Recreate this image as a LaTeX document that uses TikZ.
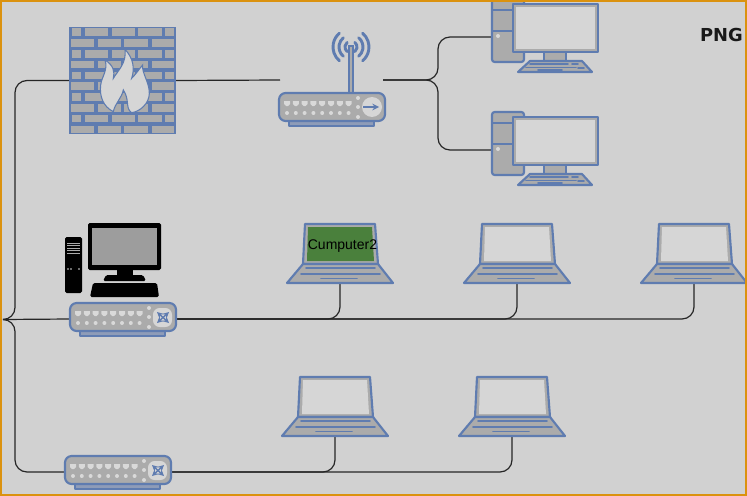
\documentclass[tikz,border=0pt]{standalone}
\usepackage{fontspec}
\setmainfont{Liberation Sans}
\newfontfamily\pngfont{DejaVu Sans}
\definecolor{bgc}{HTML}{D1D1D1}
\definecolor{edgec}{HTML}{DB920F}
\definecolor{blu}{HTML}{5F7CB0}
\definecolor{gry}{HTML}{ABABAB}
\definecolor{lgt}{HTML}{D6D6D6}
\definecolor{prt}{HTML}{D9D9D9}
\definecolor{grn}{HTML}{4A803C}
\definecolor{basec}{HTML}{8E9CB8}
\tikzset{
  wire/.style={draw=black!85,line width=0.9pt,rounded corners=9pt},
  device/.style={inner sep=0pt,outer sep=0pt,draw=none},
  part/.style={draw=blu,line width=1.6pt,fill=gry,line join=round},
  thin part/.style={draw=blu,line width=1.2pt,line cap=round},
  blk/.style={fill=black,rounded corners=1.2pt},
}
\newcommand{\switchbody}[2]{%
  \begin{scope}[shift={(#1,#2)}]
    \filldraw[part,fill=basec] (10,28) rectangle (95,33);
    \filldraw[part,rounded corners=5pt] (0,0) rectangle (106,28);
    \foreach \i in {0,...,7} {
      \fill[prt] ({5+8.8*\i},8) -- ++(6,0) -- ++(0,3) -- ++(-2,2) -- ++(-2,0) -- ++(-2,-2) -- cycle;
      \fill[prt] ({8+8.8*\i},20) circle (2);
    }
    \foreach \j in {5,14,24} \fill[prt] (79,\j) circle (2);
  \end{scope}}
\newcommand{\laptopicon}[3]{%
  \begin{scope}[shift={(#1,#2)}]
    \filldraw[part] (16,40) -- (18,0) -- (88,0) -- (91,40) -- cycle;
    \fill[#3] (21,3) -- (85,3) -- (87,37) -- (20,37) -- cycle;
    \filldraw[part] (16,40) -- (91,40) -- (106,59) -- (0,59) -- cycle;
    \draw[thin part] (19,44) -- (88,44);
    \draw[thin part] (14,50) -- (93,50);
    \draw[thin part] (34,54.5) -- (70,54.5);
  \end{scope}}
\newcommand{\desktopicon}[2]{%
  \begin{scope}[shift={(#1,#2)}]
    \filldraw[part,rounded corners=2pt] (0,0) rectangle (32,63);
    \draw[thin part] (0,11) -- (32,11);
    \draw[thin part] (0,32) -- (32,32);
    \fill[prt] (6,37) circle (2);
    \filldraw[part] (52,53) rectangle (74,62);
    \filldraw[part] (21,5) rectangle (106,53);
    \fill[lgt] (24,8) rectangle (103,50);
    \filldraw[part] (38,62) -- (90,62) -- (100,73) -- (26,73) -- cycle;
    \draw[thin part] (38,65) -- (76,65);
    \draw[thin part] (34,68.5) -- (84,68.5);
    \draw[thin part] (46,71) -- (70,71);
    \draw[thin part] (80,65) -- (86,65);
    \draw[thin part] (86,69) -- (92,69);
  \end{scope}}
\begin{document}
\begin{tikzpicture}[x=0.75pt,y=-0.75pt]
  \useasboundingbox (0,0) rectangle (747,496);
  \clip (0,0) rectangle (747,496);
  \fill[bgc] (0,0) rectangle (747,496);

  % placement of the devices
  \node[device,minimum width=79.5pt,minimum height=80.25pt] (fw) at (123,80.5) {};
  \node[device,minimum width=77.25pt,minimum height=67.5pt] (rt) at (331.5,80) {};
  \node[device,minimum width=79.5pt,minimum height=24pt] (swa) at (123,319) {};
  \node[device,minimum width=79.5pt,minimum height=24pt] (swb) at (118,472) {};
  \node[device,minimum width=79.5pt,minimum height=48pt] (pca) at (545,37) {};
  \node[device,minimum width=79.5pt,minimum height=48pt] (pcb) at (545,150) {};
  \node[device,minimum width=79.5pt,minimum height=44.25pt] (lapa) at (340,253.5) {};
  \node[device,minimum width=79.5pt,minimum height=44.25pt] (lapb) at (517,253.5) {};
  \node[device,minimum width=79.5pt,minimum height=44.25pt] (lapc) at (694,253.5) {};
  \node[device,minimum width=79.5pt,minimum height=44.25pt] (lapd) at (335,406.5) {};
  \node[device,minimum width=79.5pt,minimum height=44.25pt] (lape) at (512,406.5) {};
  \coordinate (tip) at (3,319.5);
  \coordinate (bus) at (15,319.5);
  \coordinate (fk) at (438,37);
  \coordinate (fl) at (438,150);

  % connectors
  \draw[wire] (fw.east) -- (rt.west);
  \draw[wire] (fw.west) -| (bus) -- (tip);
  \draw[wire] (swb.west) -| (bus) -- (tip);
  \draw[wire] (swa.west) -- (tip);
  \draw[wire] (rt.east) -| (fk) -- (pca.west);
  \draw[wire] (rt.east) -| (fl) -- (pcb.west);
  \draw[wire] (lapa.south) |- (swa.east);
  \draw[wire] (lapb.south) |- (swa.east);
  \draw[wire] (lapc.south) |- (swa.east);
  \draw[wire] (lapd.south) |- (swb.east);
  \draw[wire] (lape.south) |- (swb.east);

  % firewall
  \begin{scope}[shift={(50,10)},scale=0.3333]
    \fill[blu] (58,50) rectangle (378,372);
    \foreach \r in {0,2,4,6,8} {
      \foreach \a/\b in {66/94,105/175,185/255,265/335,345/371}
        \fill[gry] (\a,{55+32.4*\r}) rectangle (\b,{78+32.4*\r});
      \foreach \a/\b in {64/133,143/213,223/295,305/373}
        \fill[gry] (\a,{87.4+32.4*\r}) rectangle (\b,{110.4+32.4*\r});
    }
    \filldraw[draw=blu,line width=0.8pt,fill=lgt]
      (190,305) .. controls (160,290) and (148,260) .. (152,225)
      .. controls (155,200) and (175,180) .. (165,150)
      .. controls (190,165) and (195,185) .. (190,205)
      .. controls (205,180) and (230,160) .. (225,118)
      .. controls (250,145) and (255,175) .. (245,205)
      .. controls (260,190) and (265,180) .. (278,165)
      .. controls (275,190) and (298,215) .. (298,250)
      .. controls (298,280) and (270,305) .. (245,308)
      .. controls (225,295) and (240,270) .. (220,240)
      .. controls (215,265) and (195,280) .. (190,305) -- cycle;
  \end{scope}

  % router
  \draw[blu,line width=1.1pt,fill=gry] (349,46) rectangle (353,94);
  \foreach \rr in {6,12,18} {
    \draw[blu,line width=2.2pt,line cap=round] (351,47) ++(-50:{\rr}) arc (-50:50:{\rr});
    \draw[blu,line width=2.2pt,line cap=round] (351,47) ++(130:{\rr}) arc (130:230:{\rr});
  }
  \switchbody{279}{93}
  \fill[lgt] (372,107) circle (10);
  \draw[blu,line width=1.2pt,-stealth] (363,107) -- (379,107);

  % switches
  \switchbody{70}{303}
  \fill[lgt,rounded corners=5pt] (153,308) rectangle (172,327);
  \draw[blu,line width=1.1pt,stealth-stealth] (157,312) -- (169,323);
  \draw[blu,line width=1.1pt,stealth-stealth] (169,312) -- (157,323);
  \switchbody{65}{456}
  \fill[lgt,rounded corners=5pt] (148,461) rectangle (167,480);
  \draw[blu,line width=1.1pt,stealth-stealth] (152,465) -- (164,476);
  \draw[blu,line width=1.1pt,stealth-stealth] (164,465) -- (152,476);

  % wired desktops
  \desktopicon{492}{-1}
  \desktopicon{492}{112}

  % laptops
  \laptopicon{287}{224}{grn}
  \laptopicon{464}{224}{lgt}
  \laptopicon{641}{224}{lgt}
  \laptopicon{282}{377}{lgt}
  \laptopicon{459}{377}{lgt}
  \node[device,text=black,font=\fontsize{10.5pt}{12pt}\selectfont] (lbl) at (342.5,246) {Cumputer2};

  % black computer
  \fill[blk] (65,237) rectangle (82,293);
  \foreach \yy in {243,245.5,248,250.5,253} \draw[gry,line width=0.5pt] (67,\yy) -- (80,\yy);
  \foreach \xx in {68,71,79} \fill[prt] (\xx,269) circle (0.9);
  \fill[blk] (88,223) rectangle (161,270);
  \fill[gry!92!black] (92,228) rectangle (157,265);
  \fill[black] (117,270) rectangle (133,276);
  \fill[blk] (103,281) -- (106,275) -- (143,275) -- (146,281) -- cycle;
  \fill[blk] (90,297) -- (93,283) -- (157,283) -- (159,297) -- cycle;

  \node[device,text=black!90,font=\pngfont\bfseries\fontsize{13.4pt}{15pt}\selectfont] (png) at (721.5,34.5) {PNG};

  % frame
  \draw[edgec,line width=1.5pt] (1,1) rectangle (746,495);
\end{tikzpicture}
\end{document}
